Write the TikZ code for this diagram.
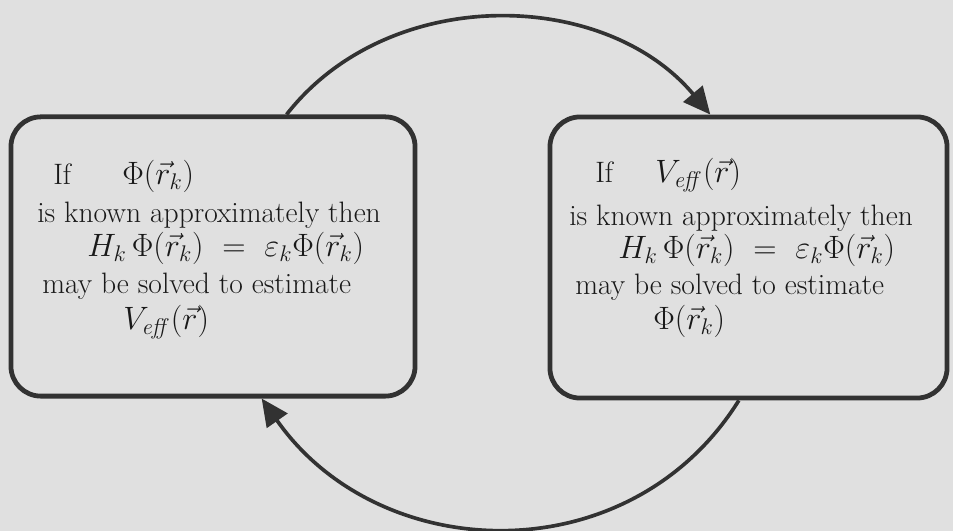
\RequirePackage{fix-cm}
\documentclass[tikz,border=0pt]{standalone}
\usepackage{amsmath,amssymb}
\usepackage{tikz}
\usetikzlibrary{calc, positioning, arrows.meta}
\definecolor{paper}{RGB}{224,224,224}
\definecolor{ink}{RGB}{50,50,50}
\newcommand{\rk}{\vec{r}_k}
\newcommand{\Veff}{V_{\mathit{eff}}}

\begin{document}
\begin{tikzpicture}[x=0.025cm,y=0.025cm]
  \tikzset{panel/.style={draw=ink,line width=3.4pt,rounded corners=0.75cm,inner sep=0,
      minimum width=10.1cm,minimum height=6.98cm},
    txt/.style={anchor=base west,inner sep=0,text=black!90,font=\fontsize{21}{25}\selectfont},
    mtxt/.style={txt,font=\fontsize{23}{27}\selectfont},
    cyclearrow/.style={draw=ink,line width=2.6pt,-{Triangle[length=0.68cm,width=0.62cm]}}}
  \fill[paper] (0,0) rectangle (953,531);
  \useasboundingbox (0,0) rectangle (953,531);
  \node[panel] (L) at (213,274.5) {};
  \node[panel,minimum width=9.925cm,minimum height=7.025cm] (R) at (748.5,273.5) {};
  % left box
  \node[txt] (lif) at (53,346) {If};
  \node[mtxt] (lphi) at (122,346) {$\Phi(\rk)$};
  \node[txt] (lknown) at (37,308) {is known approximately then};
  \node[mtxt] (leq) at (87,274) {$H_k\,\Phi(\rk)\ =\ \varepsilon_k\Phi(\rk)$};
  \node[txt] (lmay) at (42,237) {may be solved to estimate};
  \node[mtxt] (lres) at (123,201) {$\Veff(\vec{r})$};
  % right box
  \node[txt] (rif) at (595,348) {If};
  \node[mtxt] (rveff) at (655,348) {$\Veff(\vec{r})$};
  \node[txt] (rknown) at (569,305) {is known approximately then};
  \node[mtxt] (req) at (618,272) {$H_k\,\Phi(\rk)\ =\ \varepsilon_k\Phi(\rk)$};
  \node[txt] (rmay) at (575,236) {may be solved to estimate};
  \node[mtxt] (rres) at (653,201) {$\Phi(\rk)$};
  % cycle
  \coordinate (topfrom) at ($(L.north west)!0.68!(L.north east)$);
  \coordinate (topto) at ($(R.north west)!0.405!(R.north east)$);
  \coordinate (botfrom) at ($(R.south west)!0.476!(R.south east)$);
  \coordinate (botto) at ($(L.south west)!0.619!(L.south east)$);
  \draw[cyclearrow] (topfrom) to[out=52,in=130] (topto);
  \draw[cyclearrow] (botfrom) to[out=-122,in=-55,looseness=1.1] (botto);
\end{tikzpicture}
\end{document}
